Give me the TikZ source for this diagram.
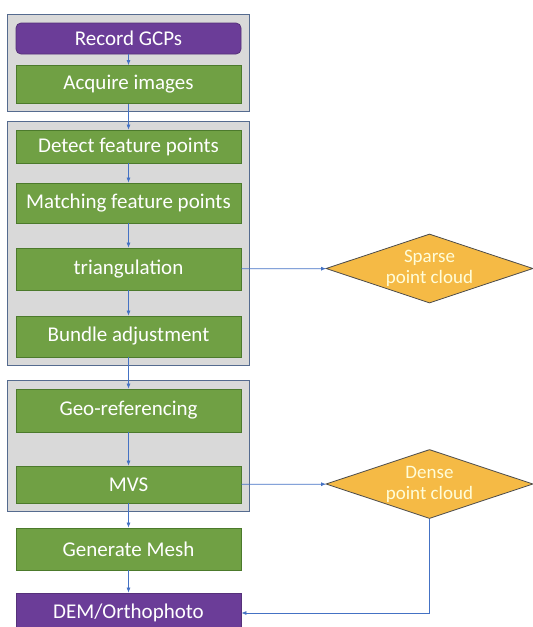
\documentclass[tikz,border=0pt]{standalone}
\usepackage{fontspec}
\setmainfont{Carlito}
\usetikzlibrary{shapes.geometric,fit,arrows.meta,backgrounds}
\definecolor{stepgreen}{HTML}{70A044}
\definecolor{stepgreenline}{HTML}{4C7A2C}
\definecolor{endpurple}{HTML}{6B3D98}
\definecolor{groupgrey}{HTML}{D9D9D9}
\definecolor{groupline}{HTML}{556B8F}
\definecolor{flowblue}{HTML}{4472C4}
\definecolor{cloudgold}{HTML}{F5BA45}
\begin{document}
\begin{tikzpicture}[x=1pt,y=-1pt,
  stepbox/.style={draw=stepgreenline, fill=stepgreen, text=white, font=\fontsize{21}{23}\selectfont,
    minimum width=225pt, minimum height=38pt, inner sep=0pt, line width=0.8pt},
  endbox/.style={stepbox, draw=endpurple!80!black, fill=endpurple},
  group/.style={draw=groupline, fill=groupgrey, line width=0.9pt, inner xsep=8pt, inner ysep=8pt},
  cloud/.style={diamond, aspect=3, draw=black!70, fill=cloudgold, text=yellow!15, line width=0.8pt,
    minimum width=207pt, minimum height=69pt, inner sep=0pt, align=center, font=\fontsize{19}{21}\selectfont},
  flow/.style={draw=flowblue, line width=0.7pt, -{Latex[length=5pt,width=4pt]}}]
\useasboundingbox (0,0) rectangle (533,627);
% processing steps
\node[endbox, rounded corners=5pt, minimum height=31pt] (gcp) at (128.5,38.5) {Record GCPs};
\node[stepbox] (acquire) at (128.5,84.5) {Acquire images};
\node[stepbox, minimum height=33pt] (detect) at (128.5,146.5) {Detect feature points};
\node[stepbox, minimum height=40pt] (match) at (128.5,203) {Matching feature points};
\node[stepbox, minimum height=42pt] (triang) at (128.5,269) {triangulation};
\node[stepbox, minimum height=41pt] (bundle) at (128.5,336.5) {Bundle adjustment};
\node[stepbox, minimum height=43pt] (georef) at (128.5,410.5) {Geo-referencing};
\node[stepbox, minimum height=37pt] (mvs) at (128.5,484.5) {MVS};
\node[stepbox, minimum height=42pt] (mesh) at (128.5,549) {Generate Mesh};
\node[endbox, minimum height=40pt] (dem) at (128.5,613) {DEM/Orthophoto};
% grey stage frames behind the steps
\begin{pgfonlayer}{background}
\node[group, fit=(gcp)(acquire)] (stage1) {};
\node[group, fit=(detect)(bundle)] (stage2) {};
\node[group, fit=(georef)(mvs)] (stage3) {};
\end{pgfonlayer}
% outputs
\node[cloud] (sparse) at (429.5,268.5) {Sparse\\point cloud};
\node[cloud] (dense) at (429.5,484) {Dense\\point cloud};
% connectors
\draw[flow] (gcp) -- (acquire);
\draw[flow] (acquire) -- (detect);
\draw[flow] (detect) -- (match);
\draw[flow] (match) -- (triang);
\draw[flow] (triang) -- (bundle);
\draw[flow] (bundle) -- (georef);
\draw[flow] (georef) -- (mvs);
\draw[flow] (mvs) -- (mesh);
\draw[flow] (mesh) -- (dem);
\draw[flow] (triang) -- (sparse);
\draw[flow] (mvs) -- (dense);
\draw[flow] (dense.south) |- (dem.east);
\end{tikzpicture}
\end{document}
